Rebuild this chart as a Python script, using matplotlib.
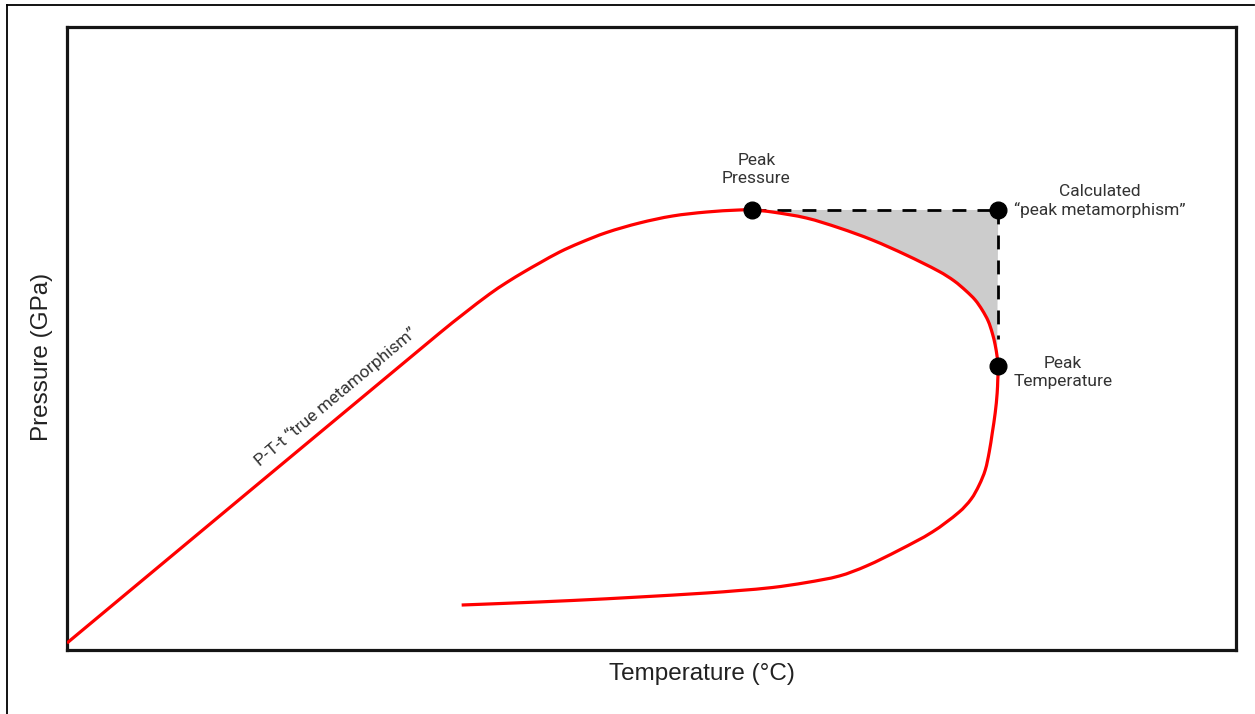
import matplotlib
matplotlib.use("Agg")
import matplotlib.pyplot as plt
import numpy as np
from matplotlib.lines import Line2D
from matplotlib.path import Path
from matplotlib.patches import PathPatch

# P-T path (arbitrary temperature / pressure units, 0-100 on both axes)
path_T = [0.0, 31.88, 34.02, 36.15, 37.61, 39.15, 40.43, 42.14, 43.85, 46.15,
          48.97, 51.79, 54.70, 57.52, 58.63, 60.34, 63.25, 66.07, 68.89, 71.79,
          74.62, 75.90, 76.92, 77.69, 78.29, 78.80, 79.15, 79.40, 79.57, 79.66,
          79.62, 79.57, 79.40, 79.15, 78.89, 78.55, 78.03, 77.35, 76.32, 74.02,
          71.20, 68.38, 66.07, 63.25, 60.34, 57.52, 54.70, 48.97, 43.25, 37.61,
          33.76]
path_P = [1.12, 50.88, 54.09, 57.14, 58.99, 60.75, 62.12, 63.88, 65.33, 67.01,
          68.54, 69.66, 70.30, 70.63, 70.63, 70.30, 69.34, 67.74, 65.81, 63.40,
          60.75, 59.23, 57.62, 56.18, 54.57, 52.81, 50.88, 48.96, 47.03, 45.59,
          43.34, 41.25, 38.04, 34.83, 31.78, 28.89, 26.48, 24.24, 22.15, 18.94,
          16.05, 13.48, 11.88, 10.83, 10.03, 9.55, 9.15, 8.51, 7.95, 7.50,
          7.22]

peak_pressure = (58.63, 70.63)
peak_temperature = (79.66, 45.59)
# calculated "peak metamorphism" = max T combined with max P
calc_peak = (peak_temperature[0], peak_pressure[1])
dash_bottom_P = 50.0


def smooth_path(ax, xs, ys, close=None):
    """Chord-length Catmull-Rom curve through the points (cubic Beziers)."""
    p = np.column_stack([xs, ys]).astype(float)
    q = ax.transData.transform(p)          # pixel space for chord lengths
    n = len(p)
    d = np.hypot(*np.diff(q, axis=0).T)
    tang = np.zeros_like(p)
    for i in range(n):
        if i == 0:
            tang[i] = (p[1] - p[0]) / d[0]
        elif i == n - 1:
            tang[i] = (p[-1] - p[-2]) / d[-1]
        else:
            tang[i] = (p[i + 1] - p[i - 1]) / (d[i - 1] + d[i])
    verts = [p[0]]
    codes = [Path.MOVETO]
    for i in range(n - 1):
        verts += [p[i] + tang[i] * d[i] / 3, p[i + 1] - tang[i + 1] * d[i] / 3,
                  p[i + 1]]
        codes += [Path.CURVE4] * 3
    if close is not None:
        verts += [close, p[0]]
        codes += [Path.LINETO, Path.CLOSEPOLY]
    return Path(verts, codes)


fig = plt.figure(figsize=(12.55, 7.14), dpi=100)
ax = fig.add_axes([67 / 1255, 64 / 714, 1169 / 1255, 623 / 714])
ax.set_xlim(0, 100)
ax.set_ylim(0, 100)
ax.set_xticks([])
ax.set_yticks([])
for s in ax.spines.values():
    s.set_linewidth(2.3)
    s.set_color("#151515")

# shaded gap between the path and the calculated peak
i0 = path_T.index(peak_pressure[0])
i1 = path_T.index(79.57)
ax.add_patch(PathPatch(smooth_path(ax, path_T[i0:i1 + 1], path_P[i0:i1 + 1],
                                   close=calc_peak),
                       facecolor="#cccccc", lw=0, zorder=1))

ax.add_patch(PathPatch(smooth_path(ax, path_T, path_P), facecolor="none",
                       edgecolor="red", lw=2.3, zorder=3, capstyle="butt"))

ax.plot([peak_pressure[0], calc_peak[0]], [calc_peak[1], calc_peak[1]],
        color="black", lw=2.0, dashes=(5, 4), zorder=2)
ax.plot([calc_peak[0], calc_peak[0]], [calc_peak[1], dash_bottom_P],
        color="black", lw=2.0, dashes=(5, 4), zorder=2)

pts = [peak_pressure, calc_peak, peak_temperature]
ax.plot([p[0] for p in pts], [p[1] for p in pts], "o", color="black",
        ms=12, zorder=4, ls="none")

ann = dict(family="Roboto", fontsize=12.5, color="#333333",
           ha="center", va="center", linespacing=1.25)
ax.text(58.97, 77.2, "Peak\nPressure", **ann)
ax.text(88.38, 72.07, "Calculated\n\u201cpeak metamorphism\u201d", **ann)
ax.text(85.2, 44.5, "Peak\nTemperature", **ann)
ax.text(22.99, 40.61, "P-T-t \u201ctrue metamorphism\u201d", rotation=40,
        rotation_mode="anchor", **ann)

lab = dict(family="Liberation Sans", fontsize=17.5, color="#222222",
           ha="center", va="center")
fig.text(702 / 1255, 1 - 674 / 714, "Temperature (\u00b0C)", **lab)
fig.text(42 / 1255, 1 - 357 / 714, "Pressure (GPa)", rotation=90, **lab)

# thin page frame along top and left edges
fig.add_artist(Line2D([7 / 1255, 1254 / 1255], [1 - 5 / 714, 1 - 5 / 714],
                      color="black", lw=1.3))
fig.add_artist(Line2D([7 / 1255, 7 / 1255], [0, 1 - 5 / 714],
                      color="black", lw=1.3))

fig.savefig("out.png", dpi=100)
